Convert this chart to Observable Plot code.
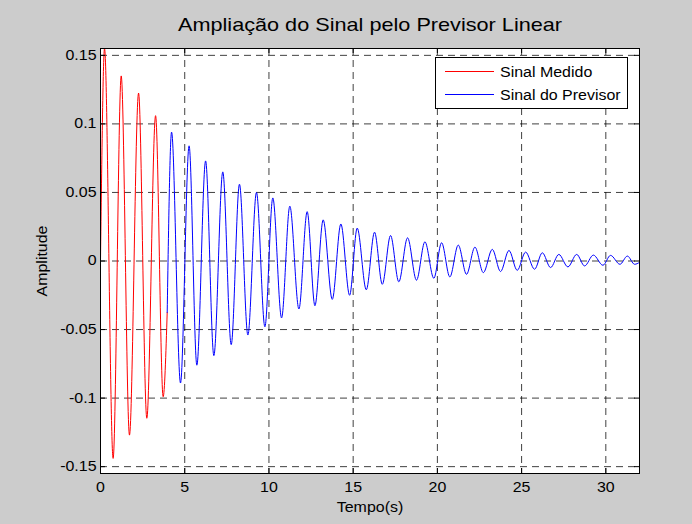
<!DOCTYPE html>
<html>
<head>
<meta charset="utf-8">
<script src="https://cdn.jsdelivr.net/npm/d3@7"></script>
<script src="https://cdn.jsdelivr.net/npm/@observablehq/plot@0.6"></script>
<style>
  html, body { margin: 0; padding: 0; background: #cccccc; }
  #wrap { position: relative; width: 692px; height: 524px; background: #cccccc; font-family: "Liberation Sans", Arial, sans-serif; }
  #legend { position: absolute; left: 435px; top: 57px; width: 193px; height: 52px; background: #fff; border: 1px solid #000; box-sizing: border-box; font-size: 14px; color: #000; }
  .row { position: absolute; left: 0; height: 16px; line-height: 16px; }
  .sw { position: absolute; left: 9px; top: 7px; width: 49px; height: 0; border-top: 1px solid; }
  .lab { position: absolute; left: 64px; top: 0; white-space: nowrap; transform: scaleX(1.14); transform-origin: left center; }
</style>
</head>
<body>
<div id="wrap"></div>
<script>
// ---- data ----
const title = "Ampliação do Sinal pelo Previsor Linear";
const xLabel = "Tempo(s)";
const yLabel = "Amplitude";
const legendNames = ["Sinal Medido", "Sinal do Previsor"];
const xTicks = [0, 5, 10, 15, 20, 25, 30];
const yTicks = [-0.15, -0.1, -0.05, 0, 0.05, 0.1, 0.15];
const xDomain = [0, 32];
const yDomain = [-0.155, 0.155];

const medidoT = [0, 0.24, 0.75, 1.23, 1.72, 2.26, 2.75, 3.27, 3.72, 3.96];
const medidoV = [0, 0.155, -0.144, 0.135, -0.127, 0.1225, -0.1147, 0.106, -0.099, -0.0375];

// predictor signal (extrema)
const previsorT = [3.96, 4.22, 4.75, 5.26, 5.72, 6.24, 6.73, 7.26, 7.76, 8.25, 8.75, 9.26, 9.76, 10.23, 10.75,
  11.24, 11.78, 12.27, 12.73, 13.22, 13.76, 14.27, 14.79, 15.24, 15.78, 16.27, 16.73, 17.22, 17.71,
  18.23, 18.76, 19.26, 19.79, 20.25, 20.74, 21.24, 21.73, 22.23, 22.73, 23.26, 23.75, 24.25, 24.74,
  25.24, 25.77, 26.23, 26.72, 27.21, 27.75, 28.27, 28.74, 29.26, 29.83, 30.28, 30.84, 31.28, 31.71, 32.0];
const previsorV = [-0.0375, 0.094, -0.089, 0.084, -0.076, 0.073, -0.069, 0.065, -0.061, 0.056, -0.054, 0.050, -0.048, 0.046, -0.0415,
  0.040, -0.035, 0.036, -0.0326, 0.030, -0.028, 0.027, -0.025, 0.024, -0.021, 0.021, -0.017, 0.0186, -0.0152,
  0.0169, -0.014, 0.014, -0.0126, 0.0133, -0.0116, 0.0116, -0.0097, 0.0101, -0.0085, 0.0085, -0.0077, 0.0077, -0.0068,
  0.0065, -0.006, 0.006, -0.0048, 0.0048, -0.0043, 0.0048, -0.0036, 0.0043, -0.0031, 0.0041, -0.0024, 0.0036, -0.0024, -0.001];

const medido = medidoT.map((t, i) => ({t, v: medidoV[i]}));
const previsor = previsorT.map((t, i) => ({t, v: previsorV[i]}));

// ---- layout ----
const W = 692, H = 524;
const mL = 100, mR = 53, mT = 48, mB = 51;
const innerH = H - mT - mB, innerW = W - mL - mR;
const tickLen = 5;
const font = "Liberation Sans, Arial, sans-serif";

const chart = Plot.plot({
  width: W, height: H,
  marginLeft: mL, marginRight: mR, marginTop: mT, marginBottom: mB,
  style: {background: "transparent", fontFamily: font, fontSize: "14px", color: "#000"},
  x: {domain: xDomain, ticks: xTicks, label: null},
  y: {domain: yDomain, ticks: yTicks, label: null},
  marks: [
    Plot.frame({fill: "white", stroke: null}),
    Plot.gridX(xTicks, {stroke: "#000", strokeOpacity: 0.75, strokeDasharray: "7,5"}),
    Plot.gridY(yTicks, {stroke: "#000", strokeOpacity: 0.75, strokeDasharray: "7,5"}),
    Plot.line(medido, {x: "t", y: "v", stroke: "#ff0000", strokeWidth: 1, curve: "monotone-x"}),
    Plot.line(previsor, {x: "t", y: "v", stroke: "#0000ff", strokeWidth: 1, curve: "monotone-x"}),
    // inner tick marks (MATLAB style)
    Plot.tickX(xTicks, {x: d => d, stroke: "#000", insetTop: innerH - tickLen}),
    Plot.tickX(xTicks, {x: d => d, stroke: "#000", insetBottom: innerH - tickLen}),
    Plot.tickY(yTicks, {y: d => d, stroke: "#000", insetRight: innerW - tickLen}),
    Plot.tickY(yTicks, {y: d => d, stroke: "#000", insetLeft: innerW - tickLen}),
    Plot.frame({stroke: "#000", strokeWidth: 1}),
    Plot.axisX(xTicks, {tickSize: 0, tickPadding: 9, fontSize: 14, tickFormat: d => String(d)}),
    Plot.axisY(yTicks, {tickSize: 0, tickPadding: 4, fontSize: 14, tickFormat: d => String(d)}),
    Plot.text([title], {frameAnchor: "top", dy: -31, fontSize: 19, fill: "#000"}),
    Plot.text([xLabel], {frameAnchor: "bottom", dy: 38, fontSize: 14, fill: "#000"}),
    Plot.text([yLabel], {frameAnchor: "left", dx: -58, rotate: -90, textAnchor: "middle", fontSize: 14, fill: "#000"})
  ]
});

const wrap = document.getElementById("wrap");
wrap.appendChild(chart);
chart.style.position = "absolute";
chart.style.left = "0px";
chart.style.top = "0px";

// the reference text is slightly wider than Liberation Sans: stretch glyphs horizontally
chart.querySelectorAll("text").forEach(el => {
  try {
    const len = el.getComputedTextLength();
    if (len > 0) {
      el.setAttribute("textLength", (len * 1.14).toFixed(2));
      el.setAttribute("lengthAdjust", "spacingAndGlyphs");
    }
  } catch (e) {}
});

const legend = document.createElement("div");
legend.id = "legend";
const colors = ["#ff0000", "#0000ff"];
legendNames.forEach((name, i) => {
  const row = document.createElement("div");
  row.className = "row";
  row.style.top = (6 + i * 22.5) + "px";
  row.style.width = "100%";
  const sw = document.createElement("div");
  sw.className = "sw";
  sw.style.borderTopColor = colors[i];
  const lab = document.createElement("div");
  lab.className = "lab";
  lab.textContent = name;
  row.appendChild(sw);
  row.appendChild(lab);
  legend.appendChild(row);
});
wrap.appendChild(legend);
</script>
</body>
</html>
